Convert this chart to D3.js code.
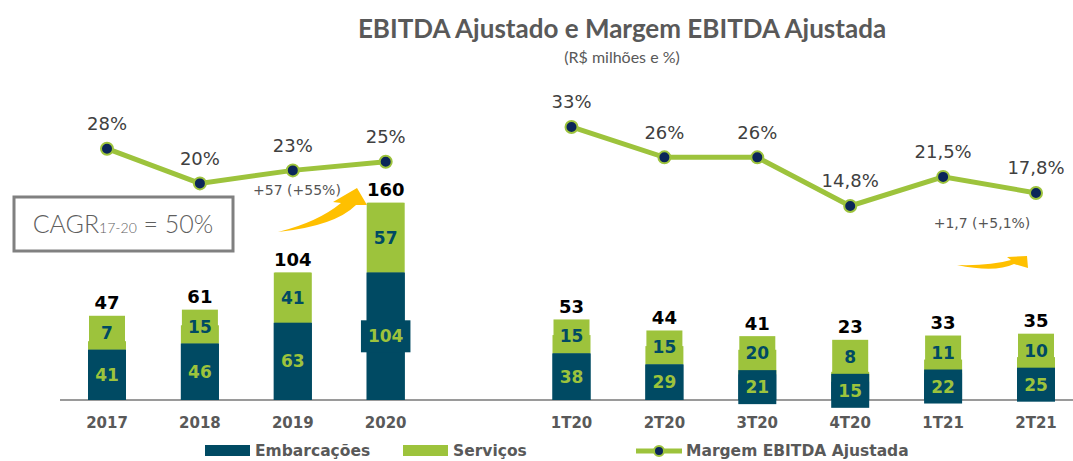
<!DOCTYPE html>
<html>
<head>
<meta charset="utf-8">
<script src="https://cdn.jsdelivr.net/npm/d3@7"></script>
<style>
  body { margin: 0; background: #fff; }
  svg { display: block; }
</style>
</head>
<body>
<div id="chart-area"></div>
<script>
// chart data
const categories = ["2017", "2018", "2019", "2020", "", "1T20", "2T20", "3T20", "4T20", "1T21", "2T21"];
const embarcacoes = [41, 46, 63, 104, null, 38, 29, 21, 15, 22, 25];
const servicos    = [7, 15, 41, 57, null, 15, 15, 20, 8, 11, 10];
const totals      = [47, 61, 104, 160, null, 53, 44, 41, 23, 33, 35];
const margem      = [28, 20, 23, 25, null, 33, 26, 26, 14.8, 21.5, 17.8];

const width = 1073, height = 461;
const navy = "#004a63", green = "#9dc33c", gray = "#595959";
const numFont = "'DejaVu Sans', Verdana, sans-serif";

const svg = d3.select("#chart-area")
    .append("svg")
    .attr("width", width)
    .attr("height", height);

// scales
const x = d3.scalePoint().domain(categories).range([107, 1036]);
const y = d3.scaleLinear().domain([0, 160]).range([400, 204]);
const yM = d3.scaleLinear().domain([0, 40]).range([270.2, 96.6]);
const barW = 38, boxH = 34;

// title
svg.append("text")
    .attr("x", 622).attr("y", 38)
    .attr("text-anchor", "middle")
    .style("font-family", "Lato, 'Open Sans', sans-serif")
    .style("font-weight", "bold")
    .style("font-size", "26px")
    .style("fill", gray)
    .text("EBITDA Ajustado e Margem EBITDA Ajustada");
svg.append("text")
    .attr("x", 622).attr("y", 63)
    .attr("text-anchor", "middle")
    .style("font-family", "Lato, 'Open Sans', sans-serif")
    .style("font-size", "16px")
    .style("fill", gray)
    .text("(R$ milhões e %)");

// axis baseline
svg.append("line")
    .attr("x1", 60).attr("x2", width)
    .attr("y1", 400).attr("y2", 400)
    .attr("stroke", "#9a9a9a").attr("stroke-width", 2);

// x labels
svg.selectAll(".xlab")
    .data(categories.filter(c => c !== ""))
    .enter().append("text")
    .attr("class", "xlab")
    .attr("x", d => x(d))
    .attr("y", 428)
    .attr("text-anchor", "middle")
    .style("font-family", numFont)
    .style("font-weight", "bold")
    .style("font-size", "15px")
    .style("fill", gray)
    .text(d => d);

// stacked bars with label boxes
const rows = categories.map((c, i) => ({c, e: embarcacoes[i], s: servicos[i], t: totals[i]}))
    .filter(d => d.c !== "");

rows.forEach(function (d) {
    const cx = x(d.c);
    const nTop = y(d.e), nBot = y(0), nC = (nTop + nBot) / 2;
    const nExtTop = Math.min(nTop, nC - boxH / 2), nExtBot = Math.max(nBot, nC + boxH / 2);
    const gTop = y(d.e + d.s), gBot = nTop;
    const gC = Math.min((gTop + gBot) / 2, nExtTop - boxH / 2);
    const gExtTop = Math.min(gTop, gC - boxH / 2);

    const g = svg.append("g");
    // green segment
    g.append("rect")
        .attr("x", cx - barW / 2).attr("width", barW)
        .attr("y", gTop).attr("height", gBot - gTop)
        .attr("fill", green);
    g.append("rect")
        .attr("x", cx - barW / 2 + 1).attr("width", barW - 2)
        .attr("y", gExtTop).attr("height", Math.max(0, nExtTop - gExtTop))
        .attr("fill", green);
    // navy segment
    g.append("rect")
        .attr("x", cx - barW / 2).attr("width", barW)
        .attr("y", nTop).attr("height", nBot - nTop)
        .attr("fill", navy);
    g.append("rect")
        .attr("x", cx - barW / 2).attr("width", barW)
        .attr("y", nExtTop).attr("height", nExtBot - nExtTop)
        .attr("fill", navy);

    // labels with boxes
    const nLab = g.append("text")
        .attr("x", cx).attr("y", nC)
        .attr("text-anchor", "middle").attr("dominant-baseline", "central")
        .style("font-family", numFont).style("font-weight", "bold").style("font-size", "17px")
        .style("fill", green).text(d.e);
    const nw = nLab.node().getComputedTextLength() + 14;
    if (nw > barW) {
        g.insert("rect", "text")
            .attr("x", cx - nw / 2).attr("width", nw)
            .attr("y", nC - 16).attr("height", 32)
            .attr("fill", navy);
    }
    g.append("text")
        .attr("x", cx).attr("y", gC)
        .attr("text-anchor", "middle").attr("dominant-baseline", "central")
        .style("font-family", numFont).style("font-weight", "bold").style("font-size", "17px")
        .style("fill", navy).text(d.s);

    // total
    g.append("text")
        .attr("x", cx).attr("y", gExtTop - 13)
        .attr("text-anchor", "middle").attr("dominant-baseline", "central")
        .style("font-family", numFont).style("font-weight", "bold").style("font-size", "18px")
        .style("fill", "#000").text(d.t);
});

// margin line, split in two groups
const fmt = v => (Number.isInteger(v) ? v : v.toFixed(1)).toString().replace(".", ",") + "%";
const pts = categories.map((c, i) => ({c, v: margem[i]}));
const groups = [pts.slice(0, 4), pts.slice(5)];
const line = d3.line().x(d => x(d.c)).y(d => yM(d.v));

groups.forEach(function (grp) {
    svg.append("path")
        .datum(grp)
        .attr("d", line)
        .attr("fill", "none")
        .attr("stroke", green)
        .attr("stroke-width", 5);
    svg.selectAll(null).data(grp).enter().append("circle")
        .attr("cx", d => x(d.c)).attr("cy", d => yM(d.v))
        .attr("r", 6)
        .attr("fill", "#0b2659")
        .attr("stroke", green).attr("stroke-width", 2);
    svg.selectAll(null).data(grp).enter().append("text")
        .attr("x", d => x(d.c)).attr("y", d => yM(d.v) - 25)
        .attr("text-anchor", "middle").attr("dominant-baseline", "central")
        .style("font-family", numFont).style("font-size", "18px")
        .style("fill", "#404040")
        .text(d => fmt(d.v));
});

// CAGR box
svg.append("rect")
    .attr("x", 14).attr("y", 197).attr("width", 219).attr("height", 54)
    .attr("fill", "#fff").attr("stroke", "#808080").attr("stroke-width", 3);
const cagr = svg.append("text")
    .attr("x", 123).attr("y", 233)
    .attr("text-anchor", "middle")
    .style("font-family", "Lato, sans-serif").style("font-weight", "300")
    .style("font-size", "25px").style("fill", "#5f5f5f");
cagr.append("tspan").text("CAGR");
cagr.append("tspan").style("font-size", "14px").text("17-20");
cagr.append("tspan").text(" = 50%");

// growth annotations
svg.append("text")
    .attr("x", 297).attr("y", 190)
    .attr("text-anchor", "middle").attr("dominant-baseline", "central")
    .style("font-family", numFont).style("font-size", "14px").style("fill", "#555")
    .text("+57 (+55%)");
svg.append("text")
    .attr("x", 982).attr("y", 223)
    .attr("text-anchor", "middle").attr("dominant-baseline", "central")
    .style("font-family", numFont).style("font-size", "14px").style("fill", "#555")
    .text("+1,7 (+5,1%)");

const orange = "#ffc000";
svg.append("path")
    .attr("d", "M278,232 Q335,226 356,205 L367,205 L357,188 L333,202 L341,203 Q318,222 278,232 Z")
    .attr("fill", orange);
svg.append("path")
    .attr("d", "M957,265 Q995,273 1014,264 L1028,268 L1027,256 L1007,257 L1011,260 Q990,266 957,265 Z")
    .attr("fill", orange);

// legend
const leg = svg.append("g");
leg.append("rect").attr("x", 205).attr("y", 445).attr("width", 45).attr("height", 11).attr("fill", navy);
leg.append("text").attr("x", 255).attr("y", 456)
    .style("font-family", numFont).style("font-weight", "bold").style("font-size", "15.5px").style("fill", gray)
    .text("Embarcações");
leg.append("rect").attr("x", 403).attr("y", 445).attr("width", 45).attr("height", 11).attr("fill", green);
leg.append("text").attr("x", 453).attr("y", 456)
    .style("font-family", numFont).style("font-weight", "bold").style("font-size", "15.5px").style("fill", gray)
    .text("Serviços");
leg.append("line").attr("x1", 636).attr("x2", 682).attr("y1", 451).attr("y2", 451)
    .attr("stroke", green).attr("stroke-width", 5);
leg.append("circle").attr("cx", 659).attr("cy", 451).attr("r", 5)
    .attr("fill", "#0b2659").attr("stroke", green).attr("stroke-width", 2);
leg.append("text").attr("x", 686).attr("y", 456)
    .style("font-family", numFont).style("font-weight", "bold").style("font-size", "15.5px").style("fill", gray)
    .text("Margem EBITDA Ajustada");
</script>
</body>
</html>
